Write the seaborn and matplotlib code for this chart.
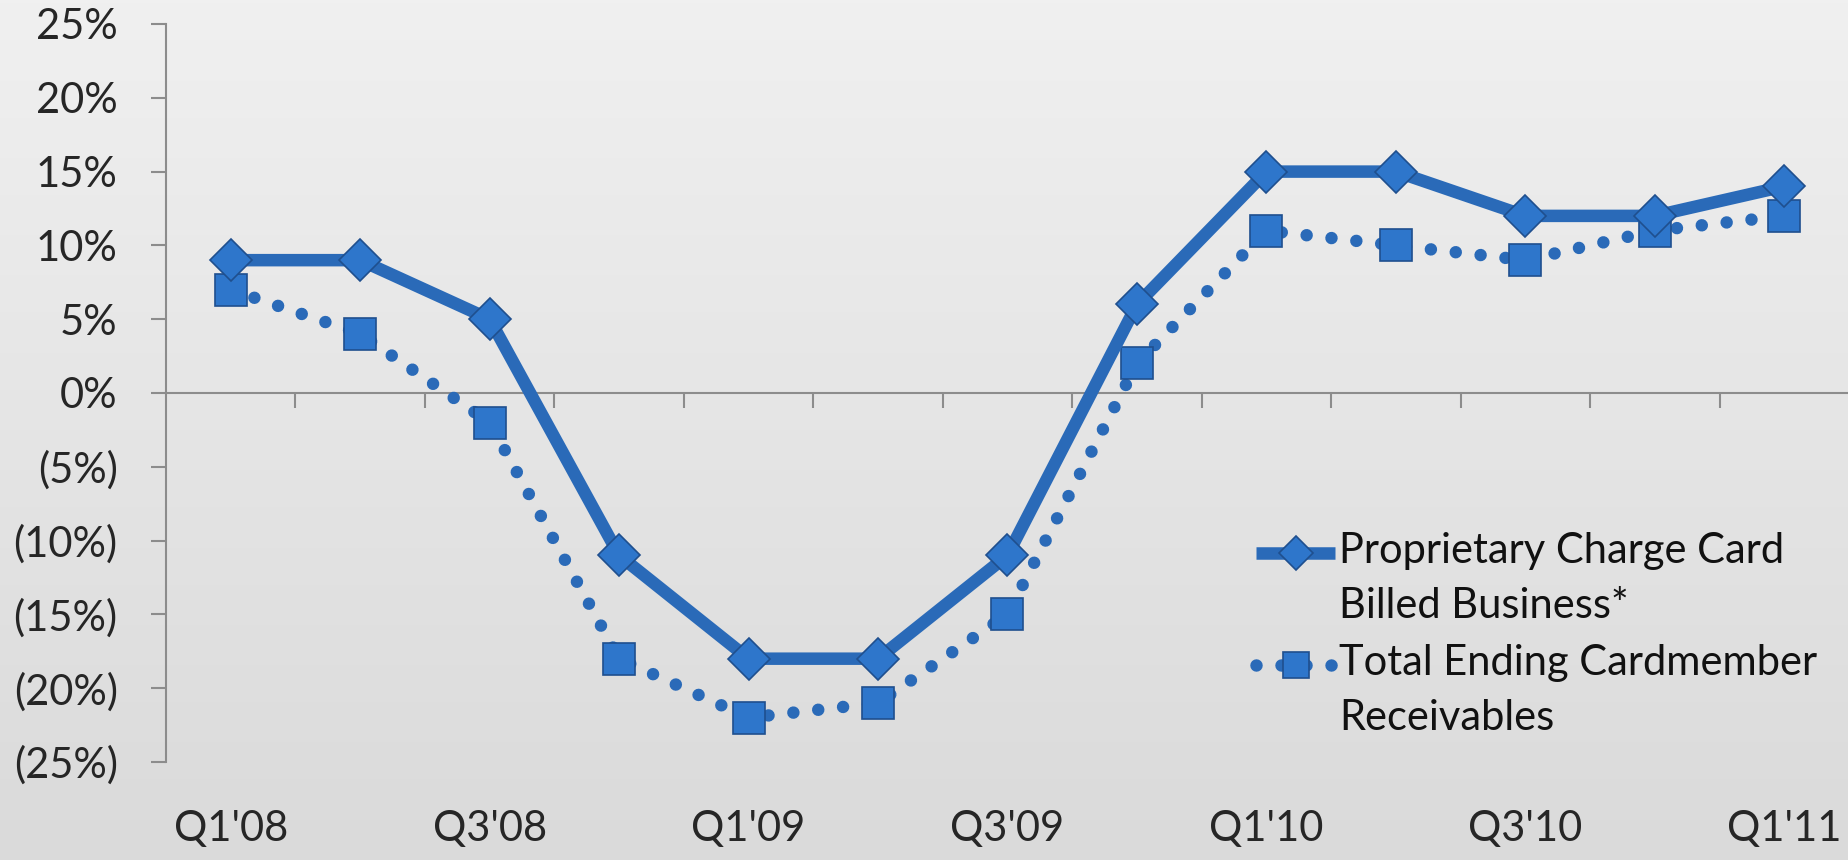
import numpy as np
import pandas as pd
import matplotlib
matplotlib.use("Agg")
import matplotlib.pyplot as plt
from matplotlib.colors import LinearSegmentedColormap
from matplotlib.lines import Line2D
from matplotlib.ticker import FuncFormatter
import seaborn as sns

# Data (% growth, year over year)
quarters = ["Q1'08", "Q2'08", "Q3'08", "Q4'08", "Q1'09", "Q2'09", "Q3'09",
            "Q4'09", "Q1'10", "Q2'10", "Q3'10", "Q4'10", "Q1'11"]
billed_business = [9, 9, 5, -11, -18, -18, -11, 6, 15, 15, 12, 12, 14]
receivables = [7, 4, -2, -18, -22, -21, -15, 2, 11, 10, 9, 11, 12]
y_ticks = list(range(-25, 30, 5))
label_billed = "Proprietary Charge Card\nBilled Business*"
label_recv = "Total Ending Cardmember\nReceivables"

df = pd.DataFrame({"quarter": quarters, "billed": billed_business, "recv": receivables})

sns.set_style("white")
plt.rcParams["font.family"] = ["Lato", "DejaVu Sans"]

W, H = 1849, 860
fig = plt.figure(figsize=(W / 100, H / 100), dpi=100)

# gradient background
bg = fig.add_axes([0, 0, 1, 1], zorder=-10)
grad = np.linspace(0, 1, 256).reshape(-1, 1)
bg.imshow(grad, aspect="auto", extent=[0, 1, 0, 1],
          cmap=LinearSegmentedColormap.from_list("bg", ["#f0f0f0", "#dadada"]))
bg.axis("off")

ax = fig.add_axes([166 / W, 1 - 762 / H, 1 - 166 / W, (762 - 24) / H])
ax.patch.set_alpha(0)

blue = "#2A6AB8"
face = "#2E76CB"
edge = "#1F4F8E"

sns.lineplot(data=df, x="quarter", y="recv", ax=ax, sort=False, color=blue,
             lw=9, linestyle=(0, (0.001, 2.0)), dash_capstyle="round",
             marker="s", markersize=23, markerfacecolor=face,
             markeredgecolor=edge, markeredgewidth=1.2,
             label=label_recv, clip_on=False, zorder=3)
sns.lineplot(data=df, x="quarter", y="billed", ax=ax, sort=False, color=blue,
             lw=9, solid_capstyle="butt",
             marker="D", markersize=21.5, markerfacecolor=face,
             markeredgecolor=edge, markeredgewidth=1.2,
             label=label_billed, clip_on=False, zorder=4)

ax.set_xlim(-0.5, len(quarters) - 0.5)
ax.set_ylim(-25, 25)
ax.set_xlabel("")
ax.set_ylabel("")

grey = "#8c8c8c"
for s in ["top", "right"]:
    ax.spines[s].set_visible(False)
ax.spines["left"].set_color(grey)
ax.spines["left"].set_linewidth(1.5)
ax.spines["bottom"].set_color(grey)
ax.spines["bottom"].set_linewidth(1.5)
ax.spines["bottom"].set_position(("data", 0))

ax.set_yticks(y_ticks)
ax.yaxis.set_major_formatter(FuncFormatter(
    lambda v, p: f"{v:.0f}%" if v >= 0 else f"({-v:.0f}%)"))
ax.tick_params(axis="y", left=True, direction="out", length=10.8, width=1.5,
               color=grey, pad=24, labelsize=30, labelcolor="#262626")

ax.set_xticks(range(0, len(quarters), 2))
ax.set_xticklabels(quarters[::2])
ax.set_xticks(np.arange(0.5, len(quarters) - 1, 1), minor=True)
ax.tick_params(axis="x", which="major", bottom=True, length=0, pad=300,
               labelsize=30, labelcolor="#262626")
ax.tick_params(axis="x", which="minor", bottom=True, direction="out",
               length=10.8, width=1.5, color=grey)

h, l = ax.get_legend_handles_labels()
order = [l.index(label_billed), l.index(label_recv)]
leg = ax.legend([h[i] for i in order], [l[i] for i in order], loc="upper left",
                bbox_to_anchor=(1256 / W, 1 - 532 / H), bbox_transform=fig.transFigure,
                frameon=False, fontsize=30, handlelength=1.9, handletextpad=0.1,
                labelspacing=0.45, borderpad=0, borderaxespad=0, markerscale=0.8,
                labelcolor="#111111")
for t in leg.get_texts():
    t.set_linespacing(1.55)
# put the legend keys level with the first text line, as in the original
for art in leg.findobj(Line2D):
    art.set_ydata(np.asarray(art.get_ydata(), float) + 19)

fig.savefig("out.png", dpi=100)
